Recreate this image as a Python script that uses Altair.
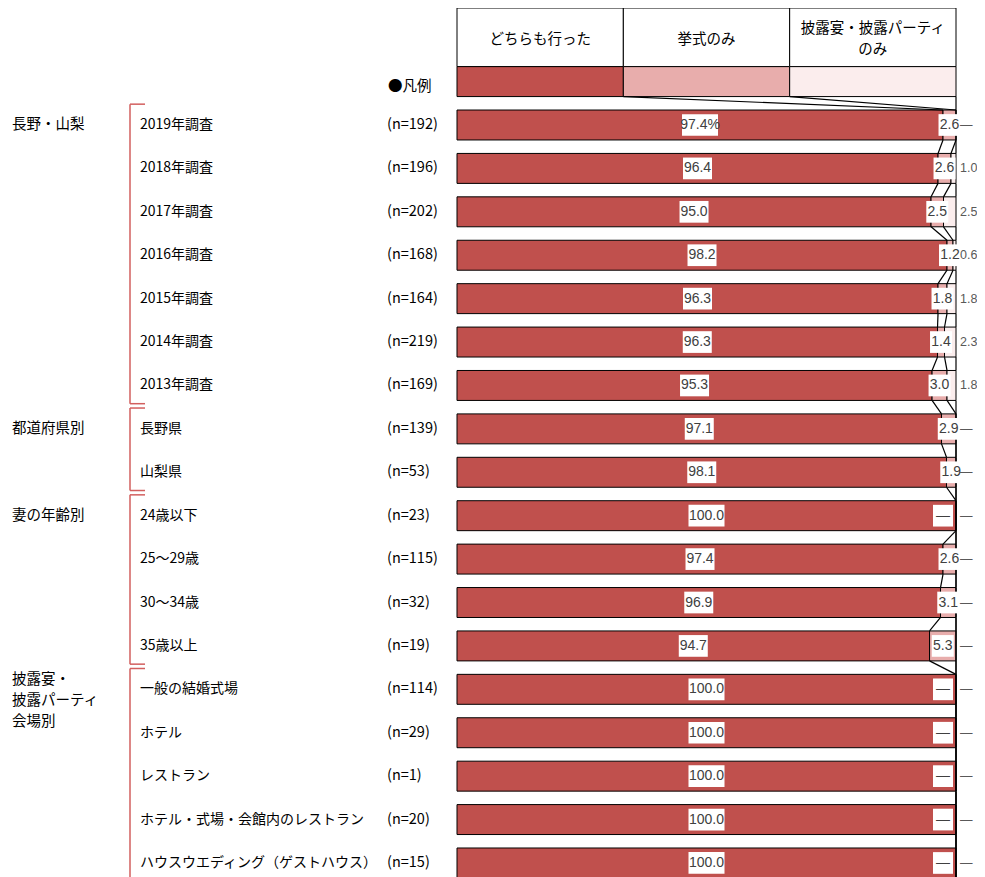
import altair as alt
import pandas as pd

# ---------------- data ----------------
rows = ["2019年調査", "2018年調査", "2017年調査", "2016年調査", "2015年調査", "2014年調査", "2013年調査",
        "長野県", "山梨県", "24歳以下", "25～29歳", "30～34歳", "35歳以上",
        "一般の結婚式場", "ホテル", "レストラン", "ホテル・式場・会館内のレストラン", "ハウスウエディング（ゲストハウス）"]
n_sizes = [192, 196, 202, 168, 164, 219, 169, 139, 53, 23, 115, 32, 19, 114, 29, 1, 20, 15]
both = [97.4, 96.4, 95.0, 98.2, 96.3, 96.3, 95.3, 97.1, 98.1, 100.0, 97.4, 96.9, 94.7,
        100.0, 100.0, 100.0, 100.0, 100.0]
ceremony = [2.6, 2.6, 2.5, 1.2, 1.8, 1.4, 3.0, 2.9, 1.9, 0, 2.6, 3.1, 5.3, 0, 0, 0, 0, 0]
party = [0, 1.0, 2.5, 0.6, 1.8, 2.3, 1.8, 0, 0, 0, 0, 0, 0, 0, 0, 0, 0, 0]
series = ["どちらも行った", "挙式のみ", "披露宴・披露パーティのみ"]
header_text = ["どちらも行った", "挙式のみ", "披露宴・披露パーティ\nのみ"]
groups = ["長野・山梨", "都道府県別", "妻の年齢別", "披露宴・\n披露パーティ\n会場別"]
group_first = [0, 7, 9, 13]
group_last = [6, 8, 12, 17]
legend_title = "●凡例"

# ---------------- style / layout ----------------
colors = ["#C0504D", "#E8ADAC", "#FBEDED"]
ROW_PX = 43.41
Y0 = 117
HALF = 0.345
PX_PER_UNIT = 499 / 100
JP = "Noto Sans CJK JP"
NUM = "Liberation Sans, Arial, sans-serif"
VAL_COLOR = "#404040"
BRACKET = "#D25F5E"

xscale = alt.Scale(domain=[0, 100], range=[449, 948], nice=False, zero=False)
yscale = alt.Scale(domain=[0, 17], range=[Y0, Y0 + 17 * ROW_PX], nice=False, zero=False)

# ---------------- tables ----------------
seg_records = []
ends = {}
ends[-1] = [100 / 3, 200 / 3, 100.0]
for k in range(3):
    seg_records.append(dict(row=-1, series=series[k], start=k * 100 / 3, end=(k + 1) * 100 / 3))
for i in range(len(rows)):
    vals = [both[i], ceremony[i], party[i]]
    tot = sum(vals)
    c = 0.0
    e = []
    for k in range(3):
        s = c
        c += vals[k]
        seg_records.append(dict(row=i, series=series[k], start=s / tot * 100, end=c / tot * 100))
        e.append(c / tot * 100)
    ends[i] = e
seg = pd.DataFrame(seg_records)
seg["top"] = seg["row"] - HALF
seg["bot"] = seg["row"] + HALF

conn = []
for r in range(-1, len(rows) - 1):
    for k in range(3):
        conn.append(dict(x=ends[r][k], x2=ends[r + 1][k], y=r + HALF, y2=r + 1 - HALF))
conn = pd.DataFrame(conn)


def fmt(v, pct=False):
    if v == 0:
        return "—"
    return f"{v:.1f}" + ("%" if pct else "")


def box_units(t):
    w = 20 if t == "—" else 7.0 * len(t) + 1
    return w / 2 / PX_PER_UNIT


boxes = []
lab3 = []
for i in range(len(rows)):
    t1 = fmt(both[i], pct=(i == 0))
    c1 = ends[i][0] / 2
    t2 = fmt(ceremony[i])
    c2 = (ends[i][0] + ends[i][1]) / 2 if ceremony[i] > 0 else 97.4
    for t, c in ((t1, c1), (t2, c2)):
        hw = box_units(t)
        boxes.append(dict(row=i, text=t, cx=c, bx=c - hw, bx2=c + hw,
                          by=i - 0.25, by2=i + 0.25))
    lab3.append(dict(row=i, text=fmt(party[i])))
boxes = pd.DataFrame(boxes)
lab3 = pd.DataFrame(lab3)

rowlab = pd.DataFrame(dict(row=list(range(len(rows))), name=rows,
                           n=[f"(n={n})" for n in n_sizes]))

grp = pd.DataFrame(dict(name=groups, first=group_first, last=group_last))
grp["gtop"] = grp["first"] - 0.48
grp["gbot"] = grp["last"] + 0.42
grp_single = grp[~grp["name"].str.contains("\n")]
grp_multi = grp[grp["name"].str.contains("\n")]

hdr = seg[seg["row"] == -1].copy()
hdr["htop"] = -Y0 / ROW_PX
hdr["hbot"] = hdr["top"]
hdr["label"] = header_text
hdr["cx"] = (hdr["start"] + hdr["end"]) / 2
hdr_single = hdr[~hdr["label"].str.contains("\n")]
hdr_multi = hdr[hdr["label"].str.contains("\n")]

# ---------------- layers ----------------
X = lambda f: alt.X(f, scale=xscale, axis=None)
Y = lambda f: alt.Y(f, scale=yscale, axis=None)

header_boxes = alt.Chart(hdr).mark_rect(fill="white", stroke="black", strokeWidth=1).encode(
    x=X("start:Q"), x2="end:Q", y=Y("htop:Q"), y2="hbot:Q")
header_t1 = alt.Chart(hdr_single).mark_text(font=JP, fontSize=14.5, color="black", baseline="middle").encode(
    x=X("cx:Q"), y=alt.value(32), text="label:N")
header_t2 = alt.Chart(hdr_multi).mark_text(font=JP, fontSize=14.5, color="black", baseline="middle",
                                           lineBreak="\n", lineHeight=21).encode(
    x=X("cx:Q"), y=alt.value(21), text="label:N")

bars = alt.Chart(seg).mark_rect(stroke="black", strokeWidth=1).encode(
    x=X("start:Q"), x2="end:Q", y=Y("top:Q"), y2="bot:Q",
    color=alt.Color("series:N", scale=alt.Scale(domain=series, range=colors), legend=None))

connectors = alt.Chart(conn).mark_rule(color="black", strokeWidth=1.2).encode(
    x=X("x:Q"), x2="x2:Q", y=Y("y:Q"), y2="y2:Q")

label_boxes = alt.Chart(boxes).mark_rect(fill="white").encode(
    x=X("bx:Q"), x2="bx2:Q", y=Y("by:Q"), y2="by2:Q")
label_text = alt.Chart(boxes).mark_text(font=NUM, fontSize=14, color=VAL_COLOR, baseline="middle").encode(
    x=X("cx:Q"), y=Y("row:Q"), text="text:N")
label3 = alt.Chart(lab3).mark_text(font=NUM, fontSize=12.5, color="#595959", align="left",
                                   baseline="middle").encode(
    x=alt.value(952), y=Y("row:Q"), text="text:N")

row_names = alt.Chart(rowlab).mark_text(font=JP, fontSize=14, color="black", align="left",
                                        baseline="middle").encode(
    x=alt.value(132), y=Y("row:Q"), text="name:N")
n_text = alt.Chart(rowlab).mark_text(font=JP, fontSize=14.5, color="black", align="left",
                                     baseline="middle").encode(
    x=alt.value(379), y=Y("row:Q"), text="n:N")

legend_lbl = alt.Chart(pd.DataFrame(dict(t=[legend_title]))).mark_text(
    font=JP, fontSize=14.5, color="black", align="left", baseline="middle").encode(
    x=alt.value(380), y=alt.value(79), text="t:N")

bracket_v = alt.Chart(grp).mark_rule(color=BRACKET, strokeWidth=1.5).encode(
    x=alt.value(122), y=Y("gtop:Q"), y2="gbot:Q")
bracket_t = alt.Chart(grp).mark_rule(color=BRACKET, strokeWidth=1.5).encode(
    x=alt.value(122), x2=alt.value(137), y=Y("gtop:Q"))
bracket_b = alt.Chart(grp).mark_rule(color=BRACKET, strokeWidth=1.5).encode(
    x=alt.value(122), x2=alt.value(137), y=Y("gbot:Q"))

grp_t1 = alt.Chart(grp_single).mark_text(font=JP, fontSize=14.5, color="black", align="left",
                                         baseline="middle").encode(
    x=alt.value(4), y=Y("first:Q"), text="name:N")
grp_t2 = alt.Chart(grp_multi).mark_text(font=JP, fontSize=14.5, color="black", align="left",
                                        baseline="middle", lineBreak="\n", lineHeight=21, dy=-9).encode(
    x=alt.value(4), y=Y("first:Q"), text="name:N")

chart = alt.layer(
    header_boxes, header_t1, header_t2, bars, connectors, label_boxes, label_text, label3,
    row_names, n_text, legend_lbl, bracket_v, bracket_t, bracket_b, grp_t1, grp_t2
).properties(
    width=969, height=869, padding=0,
    autosize=alt.AutoSizeParams(type="none")
).configure_view(stroke=None)

chart.save("out.html", embed_options={"renderer": "svg", "actions": False})
